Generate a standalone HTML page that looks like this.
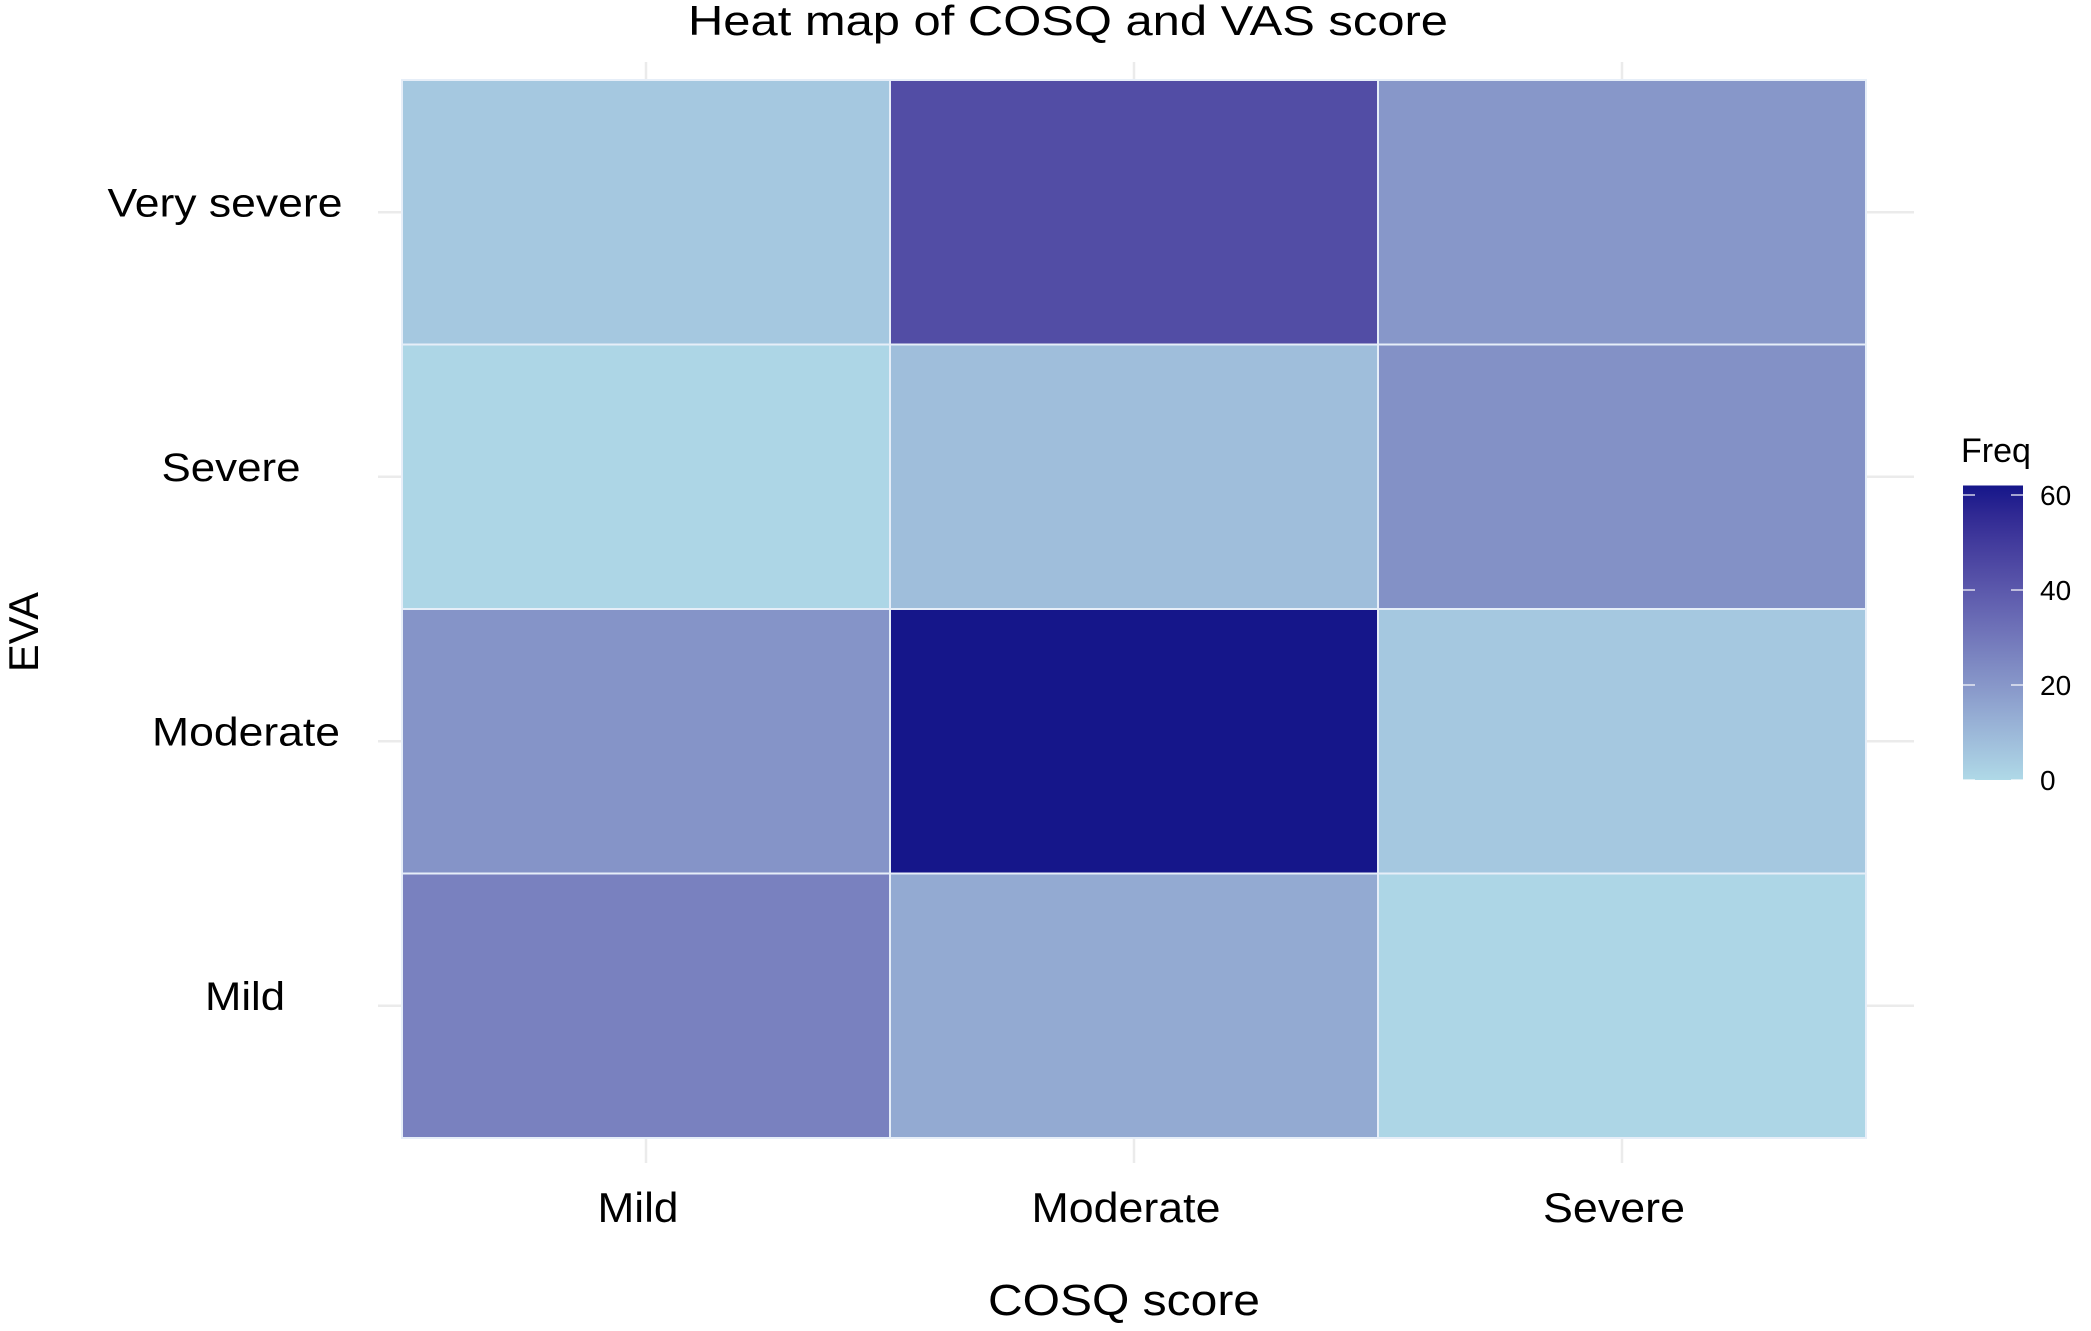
<!DOCTYPE html>
<html><head><meta charset="utf-8"><style>body{margin:0;background:#fff}svg{display:block}text{font-family:"Liberation Sans",sans-serif;fill:#000}</style></head>
<body>
<svg id="chart" width="2091" height="1331">
<text x="1068" y="35" font-size="42" text-anchor="middle" textLength="760" lengthAdjust="spacingAndGlyphs">Heat map of COSQ and VAS score</text>
<g id="grid"></g><g id="cells"></g><g id="labels"></g><g id="legend"></g>
<text x="1124" y="1315" font-size="44" text-anchor="middle" textLength="272" lengthAdjust="spacingAndGlyphs">COSQ score</text>
<text transform="translate(38,632) rotate(-90)" font-size="42" text-anchor="middle" textLength="80" lengthAdjust="spacingAndGlyphs">EVA</text>
</svg>
<script>
const xCats=["Mild","Moderate","Severe"];
const yCats=["Mild","Moderate","Severe","Very severe"];
// values[row][col], rows follow yCats
const valMild=[27,14,1];
const valModerate=[21,62,5];
const valSevere=[1,8,22];
const valVerySevere=[5,44,20];
const values=[valMild,valModerate,valSevere,valVerySevere];
const legendTicks=[0,20,40,60];
const vmin=0,vmax=62;
const NS="http://www.w3.org/2000/svg";
const L=402,R=1866,T=80,B=1138;
const cw=(R-L)/xCats.length, ch=(B-T)/yCats.length;
const xPos=i=>L+i*cw, yPos=j=>B-(j+1)*ch;
function mk(t,a,p){const e=document.createElementNS(NS,t);for(const k in a)e.setAttribute(k,a[k]);p.appendChild(e);return e;}
function toLab(h){let c=[1,3,5].map(i=>parseInt(h.substr(i,2),16)/255).map(v=>v>0.04045?Math.pow((v+0.055)/1.055,2.4):v/12.92);
 let X=(c[0]*0.4124+c[1]*0.3576+c[2]*0.1805)/0.95047,Y=c[0]*0.2126+c[1]*0.7152+c[2]*0.0722,Z=(c[0]*0.0193+c[1]*0.1192+c[2]*0.9505)/1.08883;
 const f=t=>t>0.008856?Math.cbrt(t):7.787*t+16/116;return [116*f(Y)-16,500*(f(X)-f(Y)),200*(f(Y)-f(Z))];}
function fromLab(l){let fy=(l[0]+16)/116,fx=fy+l[1]/500,fz=fy-l[2]/200;const g=t=>t*t*t>0.008856?t*t*t:(t-16/116)/7.787;
 let X=g(fx)*0.95047,Y=g(fy),Z=g(fz)*1.08883;let r=X*3.2406-Y*1.5372-Z*0.4986,gg=-X*0.9689+Y*1.8758+Z*0.0415,b=X*0.0557-Y*0.2040+Z*1.0570;
 return "rgb("+[r,gg,b].map(v=>{v=v>0.0031308?1.055*Math.pow(v,1/2.4)-0.055:12.92*v;return Math.round(Math.max(0,Math.min(1,v))*255)}).join(",")+")";}
const lo=toLab("#afd9e7"),hi=toLab("#15168a");
function color(v){const t=Math.max(0,Math.min(1,(v-vmin)/(vmax-vmin)));return fromLab(lo.map((a,i)=>a+(hi[i]-a)*t));}
const grid=document.getElementById('grid'),cells=document.getElementById('cells'),labels=document.getElementById('labels'),leg=document.getElementById('legend');
yCats.forEach((c,j)=>{const y=yPos(j)+ch/2;const e=mk('line',{x1:378,x2:1914,y1:y,y2:y,stroke:'#ebebeb','stroke-width':2.5},grid);

});
xCats.forEach((c,i)=>{const x=xPos(i)+cw/2;const e=mk('line',{x1:x,x2:x,y1:62,y2:1163,stroke:'#ebebeb','stroke-width':2.5},grid);

});
values.forEach((row,j)=>row.forEach((v,i)=>{const r=mk('rect',{x:xPos(i),y:yPos(j),width:cw,height:ch,fill:color(v),stroke:'#e6eef8','stroke-width':2},cells);

}));
const yw=[80,188,139,235];
const yx=[245,246,231,225];
yCats.forEach((c,j)=>{const t=mk('text',{x:yx[j],y:yPos(j)+ch/2+4,'font-size':40,'text-anchor':'middle',textLength:yw[j],lengthAdjust:'spacingAndGlyphs'},labels);t.textContent=c;

});
const xw=[81,189,142];
xCats.forEach((c,i)=>{const t=mk('text',{x:xPos(i)+cw/2-8,y:1222,'font-size':42,'text-anchor':'middle',textLength:xw[i],lengthAdjust:'spacingAndGlyphs'},labels);t.textContent=c;

});
// legend
const ly=v=>780-(v-0)*(780-495)/60;
const defs=mk('defs',{},leg);const gr=mk('linearGradient',{id:'lg',x1:0,y1:1,x2:0,y2:0},defs);
for(let k=0;k<=10;k++){const v=vmin+(vmax-vmin)*k/10;mk('stop',{offset:k/10,'stop-color':color(v)},gr);}
const bar=mk('rect',{x:1963,y:ly(vmax),width:60,height:ly(vmin)-ly(vmax),fill:'url(#lg)'},leg);


const ft=mk('text',{x:1961,y:462,'font-size':34},leg);ft.textContent='Freq';


legendTicks.forEach(v=>{const y=ly(v);mk('line',{x1:1963,x2:1975,y1:y,y2:y,stroke:'#fff','stroke-width':2,opacity:.6},leg);mk('line',{x1:2011,x2:2023,y1:y,y2:y,stroke:'#fff','stroke-width':2,opacity:.6},leg);
const t=mk('text',{x:2040,y:y+10,'font-size':28,fill:'#333'},leg);t.textContent=v;

});
</script>
</body></html>
